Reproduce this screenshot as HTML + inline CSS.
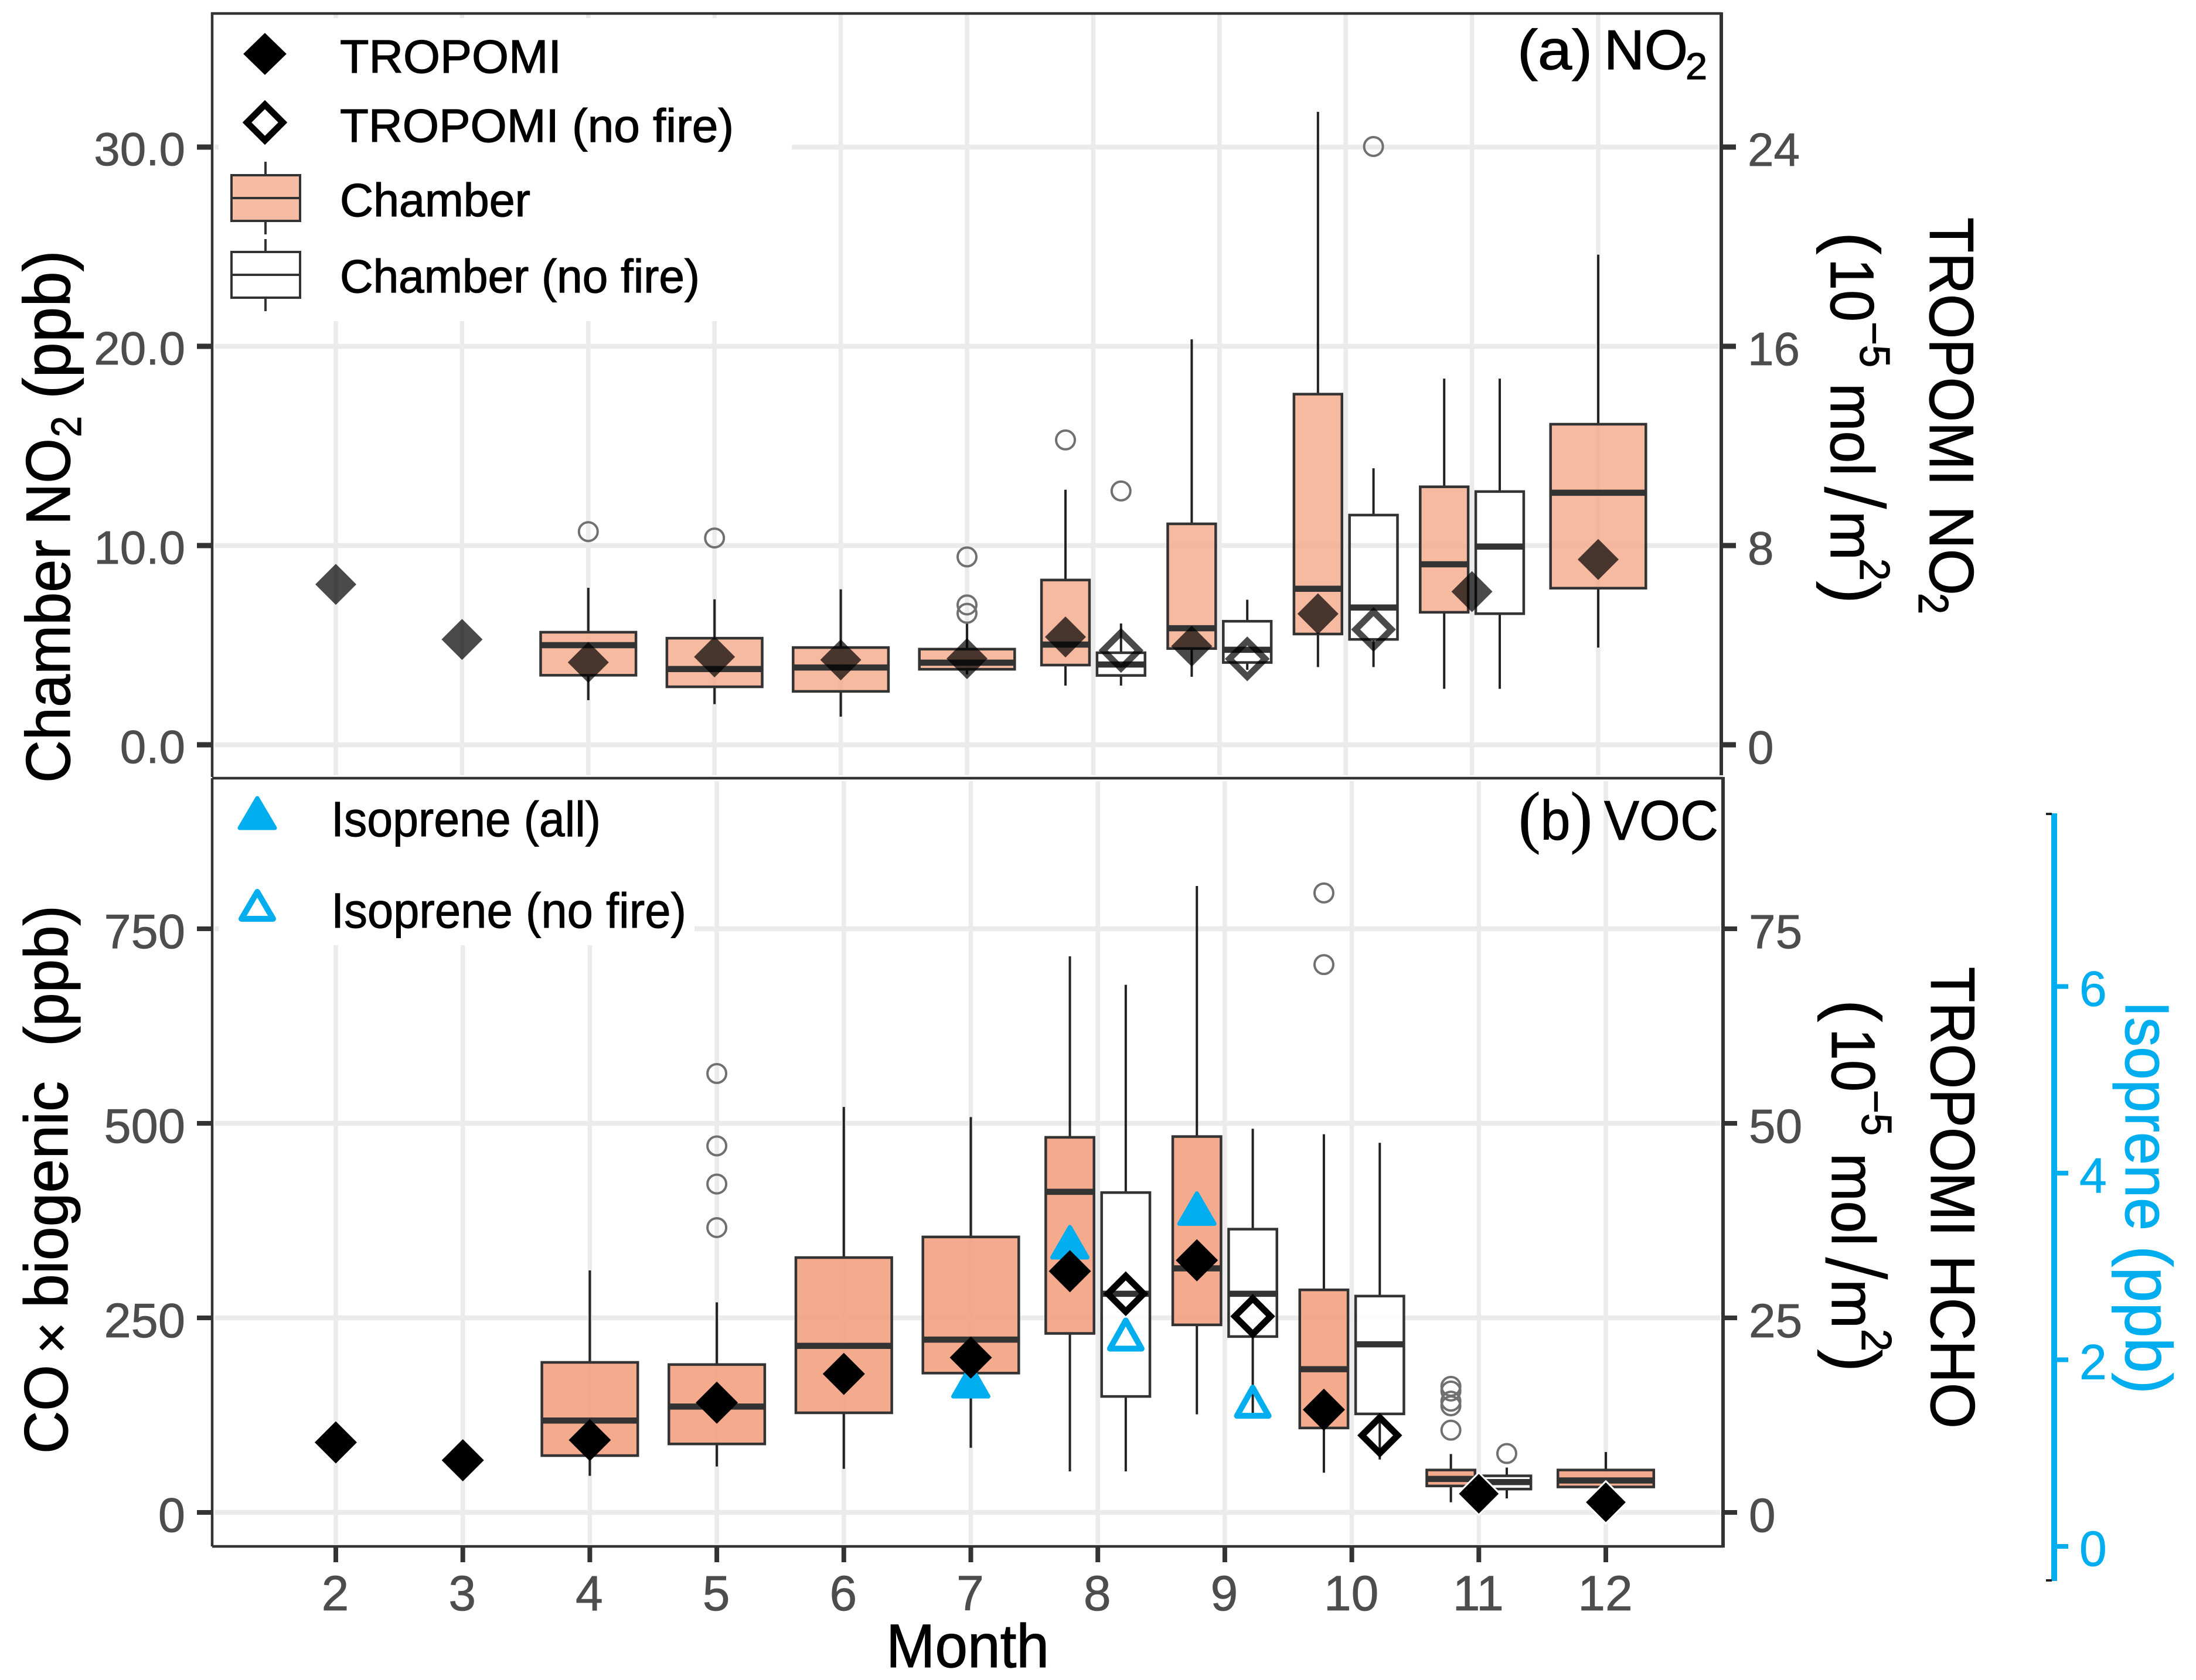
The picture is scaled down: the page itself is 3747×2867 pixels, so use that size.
<!DOCTYPE html>
<html lang="en">
<head>
<meta charset="utf-8">
<title>Chamber and TROPOMI NO2 and VOC by month</title>
<style>
  html, body { margin: 0; padding: 0; background: #fff; }
  svg { display: block; font-family: "Liberation Sans", sans-serif; }
</style>
</head>
<body>
<svg id="chart" width="3747" height="2867" viewBox="0 0 3747 2867">
  <rect x="0" y="0" width="3747" height="2867" fill="#fff"/>
  <g id="gridA"></g>
  <g id="gridB"></g>

  <rect x="373" y="31" width="978" height="517" fill="#fff"/>
  <rect x="373" y="1333" width="812" height="280" fill="#fff"/>

  <g id="marksA"></g>
  <g id="marksB"></g>
  <g id="axes"></g>

  <!-- Panel frames -->
  <path d="M362 1326V23H2937" fill="none" stroke="#333" stroke-width="4.5"/>
  <line x1="2937" x2="2937" y1="21" y2="1323" stroke="#333" stroke-width="6"/>
  <path d="M362 1328H2940M362 2639H2940M362 1328V2639" fill="none" stroke="#333" stroke-width="4.5"/>
  <line x1="2940" x2="2940" y1="1326" y2="2641" stroke="#333" stroke-width="6"/>

  <!-- Panel a legend -->
  <g font-size="80" fill="#000" stroke="#000" stroke-width="1.2">
    <path d="M452 57L488 92L452 127L416 92Z" fill="#000"/>
    <path d="M452 178.500L482.500 209L452 239.500L421.500 209Z" fill="#fff" stroke="#000" stroke-width="11"/>
    <line x1="453" x2="453" y1="276" y2="400" stroke="#333" stroke-width="4"/>
    <rect x="395" y="299" width="117" height="78" fill="#F5BBA3" stroke="#333" stroke-width="4"/>
    <line x1="395" x2="512" y1="338" y2="338" stroke="#333" stroke-width="4"/>
    <line x1="453" x2="453" y1="408" y2="531" stroke="#333" stroke-width="4"/>
    <rect x="395" y="430" width="117" height="78" fill="#fff" stroke="#333" stroke-width="4"/>
    <line x1="395" x2="512" y1="469" y2="469" stroke="#333" stroke-width="4"/>
    <text x="580" y="124" textLength="378" lengthAdjust="spacingAndGlyphs">TROPOMI</text>
    <text x="580" y="242" textLength="672" lengthAdjust="spacingAndGlyphs">TROPOMI (no fire)</text>
    <text x="580" y="369" textLength="325" lengthAdjust="spacingAndGlyphs">Chamber</text>
    <text x="580" y="499" textLength="614" lengthAdjust="spacingAndGlyphs">Chamber (no fire)</text>
  </g>

  <!-- Panel b legend -->
  <g font-size="84" fill="#000" stroke="#000" stroke-width="1">
    <path d="M439 1362L469 1413H409Z" fill="#00AEEF" stroke="#00AEEF" stroke-width="7" stroke-linejoin="round"/>
    <path d="M439 1522L466 1568H412Z" fill="#fff" stroke="#00AEEF" stroke-width="10" stroke-linejoin="round"/>
    <text x="565" y="1427" textLength="460" lengthAdjust="spacingAndGlyphs">Isoprene (all)</text>
    <text x="565" y="1583" textLength="606" lengthAdjust="spacingAndGlyphs">Isoprene (no fire)</text>
  </g>

  <!-- Panel tags -->
  <g fill="#000" stroke="#000" stroke-width="1.2">
    <text x="2589" y="118" font-size="96" textLength="128" lengthAdjust="spacingAndGlyphs">(a)</text>
    <text x="2737" y="118" font-size="96" textLength="143" lengthAdjust="spacingAndGlyphs">NO</text>
    <text x="2876" y="135" font-size="64" textLength="37" lengthAdjust="spacingAndGlyphs">2</text>
  </g>
  <g fill="#000" stroke="#000" stroke-width="1">
    <text x="2591" y="1433" font-size="96" textLength="126" lengthAdjust="spacingAndGlyphs"><tspan font-family="Liberation Serif" font-size="118">(</tspan>b<tspan font-family="Liberation Serif" font-size="118">)</tspan></text>
    <text x="2737" y="1433" font-size="96" textLength="195" lengthAdjust="spacingAndGlyphs">VOC</text>
  </g>

  <!-- Left y-axis titles -->
  <g fill="#000" font-size="107" stroke="#000" stroke-width="1.2">
    <text transform="translate(119,1336) rotate(-90)" textLength="415" lengthAdjust="spacingAndGlyphs">Chamber</text>
    <text transform="translate(119,896) rotate(-90)" textLength="148" lengthAdjust="spacingAndGlyphs">NO</text>
    <text transform="translate(138,746) rotate(-90)" font-size="72" textLength="36" lengthAdjust="spacingAndGlyphs">2</text>
    <text transform="translate(119,681) rotate(-90)" font-size="112" textLength="254" lengthAdjust="spacingAndGlyphs">(ppb)</text>
  </g>
  <g fill="#000" font-size="105" stroke="#000" stroke-width="1.2">
    <text transform="translate(115,2481) rotate(-90)" textLength="152" lengthAdjust="spacingAndGlyphs">CO</text>
    <text transform="translate(119,2310) rotate(-90)" font-size="92">×</text>
    <text transform="translate(115,2232) rotate(-90)" textLength="387" lengthAdjust="spacingAndGlyphs">biogenic</text>
    <text transform="translate(115,1786) rotate(-90)" textLength="241" lengthAdjust="spacingAndGlyphs">(ppb)</text>
  </g>

  <!-- Right y-axis title panel a -->
  <g fill="#000" font-size="107" stroke="#000" stroke-width="1.2">
    <text transform="translate(3293,371) rotate(90)" textLength="458" lengthAdjust="spacingAndGlyphs">TROPOMI</text>
    <text transform="translate(3293,863) rotate(90)" textLength="153" lengthAdjust="spacingAndGlyphs">NO</text>
    <text transform="translate(3274,1012) rotate(90)" font-size="72" textLength="36" lengthAdjust="spacingAndGlyphs">2</text>
    <text transform="translate(3124,396) rotate(90)" font-size="118" textLength="38" lengthAdjust="spacingAndGlyphs">(</text>
    <text transform="translate(3124,441) rotate(90)" font-size="105" textLength="108" lengthAdjust="spacingAndGlyphs">10</text>
    <text transform="translate(3174,549) rotate(90)" font-size="72" textLength="78" lengthAdjust="spacingAndGlyphs">−5</text>
    <text transform="translate(3124,654) rotate(90)" font-size="105" textLength="158" lengthAdjust="spacingAndGlyphs">mol</text>
    <text transform="translate(3113,829) rotate(90)" font-size="148" stroke="#fff" stroke-width="2">/</text>
    <text transform="translate(3124,872) rotate(90)" font-size="105" textLength="84" lengthAdjust="spacingAndGlyphs">m</text>
    <text transform="translate(3174,953) rotate(90)" font-size="72" textLength="38" lengthAdjust="spacingAndGlyphs">2</text>
    <text transform="translate(3124,992) rotate(90)" font-size="118" textLength="38" lengthAdjust="spacingAndGlyphs">)</text>
  </g>

  <!-- Right y-axis title panel b -->
  <g fill="#000" font-size="107" stroke="#000" stroke-width="1.2">
    <text transform="translate(3295,1650) rotate(90)" textLength="460" lengthAdjust="spacingAndGlyphs">TROPOMI</text>
    <text transform="translate(3295,2142) rotate(90)" textLength="296" lengthAdjust="spacingAndGlyphs">HCHO</text>
    <text transform="translate(3126,1706) rotate(90)" font-size="118" textLength="38" lengthAdjust="spacingAndGlyphs">(</text>
    <text transform="translate(3126,1755) rotate(90)" font-size="105" textLength="108" lengthAdjust="spacingAndGlyphs">10</text>
    <text transform="translate(3177,1860) rotate(90)" font-size="72" textLength="78" lengthAdjust="spacingAndGlyphs">−5</text>
    <text transform="translate(3126,1968) rotate(90)" font-size="105" textLength="158" lengthAdjust="spacingAndGlyphs">mol</text>
    <text transform="translate(3115,2144) rotate(90)" font-size="148" stroke="#fff" stroke-width="2">/</text>
    <text transform="translate(3126,2183) rotate(90)" font-size="105" textLength="84" lengthAdjust="spacingAndGlyphs">m</text>
    <text transform="translate(3177,2268) rotate(90)" font-size="72" textLength="38" lengthAdjust="spacingAndGlyphs">2</text>
    <text transform="translate(3126,2303) rotate(90)" font-size="118" textLength="38" lengthAdjust="spacingAndGlyphs">)</text>
  </g>

  <!-- Isoprene title -->
  <g fill="#00AEEF" font-size="106" stroke="#00AEEF" stroke-width="1.2">
    <text transform="translate(3627,1708) rotate(90)" textLength="392" lengthAdjust="spacingAndGlyphs">Isoprene</text>
    <text transform="translate(3627,2126) rotate(90)" font-size="112" textLength="253" lengthAdjust="spacingAndGlyphs">(ppb)</text>
  </g>

  <text x="1512" y="2845" font-size="105" fill="#000" stroke="#000" stroke-width="1.2" textLength="278" lengthAdjust="spacingAndGlyphs">Month</text>
</svg>

<script>
// ---------- Data ----------
const xTickValues = [2, 3, 4, 5, 6, 7, 8, 9, 10, 11, 12];
const xTickLabels = ["2", "3", "4", "5", "6", "7", "8", "9", "10", "11", "12"];

const no2LeftTicks = [0, 10, 20, 30];
const no2LeftLabels = ["0.0", "10.0", "20.0", "30.0"];
const no2RightTicks = [0, 8, 16, 24];
const no2RightLabels = ["0", "8", "16", "24"];
const vocLeftTicks = [0, 250, 500, 750];
const vocLeftLabels = ["0", "250", "500", "750"];
const vocRightTicks = [0, 25, 50, 75];
const vocRightLabels = ["0", "25", "50", "75"];
const isoTicks = [0, 2, 4, 6];
const isoLabels = ["0", "2", "4", "6"];

// Panel (a) chamber NO2, all data (ppb)
const no2AllMonths = [4, 5, 6, 7, 8, 9, 10, 11, 12];
const no2AllSide = [0, 0, 0, 0, -1, -1, -1, -1, 0];
const no2AllLow = [2.24, 2.04, 1.41, 3.53, 2.97, 3.41, 3.9, 2.81, 4.88];
const no2AllQ1 = [3.49, 2.91, 2.68, 3.79, 4.0, 4.83, 5.56, 6.65, 7.86];
const no2AllMedian = [5.0, 3.8, 3.88, 4.12, 5.03, 5.85, 7.83, 9.06, 12.65];
const no2AllQ3 = [5.65, 5.35, 4.88, 4.8, 8.27, 11.09, 17.6, 12.95, 16.09];
const no2AllHigh = [7.88, 7.3, 7.8, 6.16, 12.8, 20.35, 31.77, 18.38, 24.6];
const no2AllOutliers = [[10.7], [10.38], [], [9.43, 7.02, 6.6], [15.3], [], [], [], []];

// Panel (a) chamber NO2, no fire (ppb)
const no2CleanMonths = [8, 9, 10, 11];
const no2CleanLow = [2.97, 3.76, 3.9, 2.81];
const no2CleanQ1 = [3.48, 4.13, 5.29, 6.58];
const no2CleanMedian = [4.03, 4.77, 6.89, 9.95];
const no2CleanQ3 = [4.62, 6.2, 11.53, 12.71];
const no2CleanHigh = [6.09, 7.28, 13.88, 18.38];
const no2CleanOutliers = [[12.74], [], [30.03], []];

// Panel (a) TROPOMI NO2 (1e-5 mol/m2)
const tropNo2Months = [2, 3, 4, 5, 6, 7, 8, 9, 10, 11, 12];
const tropNo2Side = [0, 0, 0, 0, 0, 0, -1, -1, -1, 0, 0];
const tropNo2Values = [6.44, 4.23, 3.31, 3.53, 3.41, 3.46, 4.33, 3.96, 5.26, 6.15, 7.44];
const tropNo2CleanMonths = [8, 9, 10];
const tropNo2CleanValues = [3.79, 3.45, 4.63];

// Panel (b) CO x biogenic, all data (ppb)
const vocAllMonths = [4, 5, 6, 7, 8, 9, 10, 11, 12];
const vocAllSide = [0, 0, 0, 0, -1, -1, -1, -1, 0];
const vocAllLow = [47, 59, 56, 83, 52.7, 126, 51, 13, 33];
const vocAllQ1 = [73, 88, 128, 179, 230, 241, 108.5, 34, 32.7];
const vocAllMedian = [118, 136, 214, 222, 412, 313.6, 184, 43, 41];
const vocAllQ3 = [192.8, 190, 327.5, 354, 482, 483, 286, 54.5, 54.5];
const vocAllHigh = [311, 270, 521, 508, 714.6, 805, 486, 75, 77.6];
const vocAllOutliers = [[], [564, 471, 422, 366], [], [], [], [], [796, 704], [162, 156, 143, 137, 105.7], []];

// Panel (b) CO x biogenic, no fire (ppb)
const vocCleanMonths = [8, 9, 10, 11];
const vocCleanLow = [52.7, 128, 68, 18];
const vocCleanQ1 = [149, 226, 126.6, 30];
const vocCleanMedian = [281, 281, 216, 39];
const vocCleanQ3 = [411, 364, 278, 47];
const vocCleanHigh = [678, 493, 475, 57.6];
const vocCleanOutliers = [[], [], [], [75.7]];

// Panel (b) TROPOMI HCHO (1e-5 mol/m2)
const hchoMonths = [2, 3, 4, 5, 6, 7, 8, 9, 10, 11, 12];
const hchoSide = [0, 0, 0, 0, 0, 0, -1, -1, -1, 0, 0];
const hchoValues = [9.0, 6.7, 9.3, 14.1, 17.8, 19.9, 31.0, 32.4, 13.2, 2.4, 1.3];
const hchoCleanMonths = [8, 9, 10];
const hchoCleanValues = [28.1, 25.2, 9.9];

// Panel (b) isoprene (ppb)
const isoAllMonths = [7, 8, 9];
const isoAllSide = [0, -1, -1];
const isoAllValues = [1.77, 3.26, 3.62];
const isoCleanMonths = [8, 9];
const isoCleanValues = [2.27, 1.55];

// ---------- Axis functions ----------
const xA = m => 573 + (m - 2) * 215.4;
const xB = m => 573 + (m - 2) * 216.7;
const yA = v => 1271 - v * 34;
const yARight = v => 1271 - v * 42.5;
const yB = v => 2581 - v * 1.328;
const yBRight = v => 2581 - v * 13.28;
const yIso = v => 2639 - v * 159.25;

const DODGE = 0.22;
const WIDE_BOX = 0.755;
const NARROW_BOX = 0.38;
const BLUE = "#00AEEF";

const SVG_NS = "http://www.w3.org/2000/svg";
function mk(parent, tag, attrs, text) {
  const el = document.createElementNS(SVG_NS, tag);
  for (const k in attrs) el.setAttribute(k, attrs[k]);
  if (text !== undefined) el.textContent = text;
  parent.appendChild(el);
  return el;
}

const gridA = document.getElementById("gridA");
const gridB = document.getElementById("gridB");
const marksA = document.getElementById("marksA");
const marksB = document.getElementById("marksB");
const axes = document.getElementById("axes");

// ---------- Grid ----------
function drawGrid(parent, xScale, yScale, yTicks, top, bottom, right) {
  xTickValues.forEach(m => {
    const line = mk(parent, "line", { x1: xScale(m), x2: xScale(m), y1: top, y2: bottom, stroke: "#EBEBEB", "stroke-width": 7.5 });
    
    
  });
  yTicks.forEach(v => {
    const line = mk(parent, "line", { x1: 366, x2: right, y1: yScale(v), y2: yScale(v), stroke: "#EBEBEB", "stroke-width": 8.5 });
    
    
  });
}
drawGrid(gridA, xA, yA, no2LeftTicks, 25, 1323, 2933);
drawGrid(gridB, xB, yB, vocLeftTicks, 1333, 2635, 2935);

// ---------- Boxes ----------
function drawBox(parent, xScale, yScale, month, side, width, low, q1, med, q3, high, outliers, fill, fillOpacity, xUnit) {
  const cx = xScale(month + side * DODGE);
  const half = width * xUnit / 2;

  const group = mk(parent, "g", {});
  
  

  const wUp = mk(group, "line", { x1: cx, x2: cx, y1: yScale(high), y2: yScale(q3), stroke: "#222", "stroke-width": 4 });
  
  

  const wDown = mk(group, "line", { x1: cx, x2: cx, y1: yScale(q1), y2: yScale(low), stroke: "#222", "stroke-width": 4 });
  
  

  const body = mk(group, "rect", { x: cx - half, y: yScale(q3), width: 2 * half, height: yScale(q1) - yScale(q3), fill: fill, "fill-opacity": fillOpacity, stroke: "#333", "stroke-width": 4.5 });
  
  

  const medianLine = mk(group, "line", { x1: cx - half, x2: cx + half, y1: yScale(med), y2: yScale(med), stroke: "#333", "stroke-width": 10.5 });
  
  

  outliers.forEach(v => {
    const dot = mk(group, "circle", { cx: cx, cy: yScale(v), r: 16, fill: "none", stroke: "#707070", "stroke-width": 4 });
    
    
  });
}

no2AllMonths.forEach((m, i) => {
  drawBox(marksA, xA, yA, m, no2AllSide[i], no2AllSide[i] ? NARROW_BOX : WIDE_BOX, no2AllLow[i], no2AllQ1[i], no2AllMedian[i], no2AllQ3[i], no2AllHigh[i], no2AllOutliers[i], "#F4A988", 0.8, 215.4);
});
no2CleanMonths.forEach((m, i) => {
  drawBox(marksA, xA, yA, m, 1, NARROW_BOX, no2CleanLow[i], no2CleanQ1[i], no2CleanMedian[i], no2CleanQ3[i], no2CleanHigh[i], no2CleanOutliers[i], "#FFFFFF", 0, 215.4);
});
vocAllMonths.forEach((m, i) => {
  drawBox(marksB, xB, yB, m, vocAllSide[i], vocAllSide[i] ? NARROW_BOX : WIDE_BOX, vocAllLow[i], vocAllQ1[i], vocAllMedian[i], vocAllQ3[i], vocAllHigh[i], vocAllOutliers[i], "#F29F7D", 0.88, 216.7);
});
vocCleanMonths.forEach((m, i) => {
  drawBox(marksB, xB, yB, m, 1, NARROW_BOX, vocCleanLow[i], vocCleanQ1[i], vocCleanMedian[i], vocCleanQ3[i], vocCleanHigh[i], vocCleanOutliers[i], "#FFFFFF", 0.85, 216.7);
});

// ---------- Symbols ----------
function diamondPath(x, y, h) {
  return "M" + x + " " + (y - h) + "L" + (x + h) + " " + y + "L" + x + " " + (y + h) + "L" + (x - h) + " " + y + "Z";
}
function trianglePath(x, y, hw, hh) {
  return "M" + x + " " + (y - hh) + "L" + (x + hw) + " " + (y + hh) + "L" + (x - hw) + " " + (y + hh) + "Z";
}

// Isoprene triangles sit under the diamonds in panel b
isoAllMonths.forEach((m, i) => {
  const tri = mk(marksB, "path", { d: trianglePath(xB(m + isoAllSide[i] * DODGE), yIso(isoAllValues[i]), 30, 26), fill: BLUE, stroke: BLUE, "stroke-width": 7, "stroke-linejoin": "round" });
  
  
});
isoCleanMonths.forEach((m, i) => {
  const tri = mk(marksB, "path", { d: trianglePath(xB(m + DODGE), yIso(isoCleanValues[i]), 27, 24), fill: "none", stroke: BLUE, "stroke-width": 10, "stroke-linejoin": "round" });
  
  
});

tropNo2Months.forEach((m, i) => {
  const d = mk(marksA, "path", { d: diamondPath(xA(m + tropNo2Side[i] * DODGE), yARight(tropNo2Values[i]), 35), fill: "#000", "fill-opacity": 0.71 });
  
  
});
tropNo2CleanMonths.forEach((m, i) => {
  const d = mk(marksA, "path", { d: diamondPath(xA(m + DODGE), yARight(tropNo2CleanValues[i]), 30.5), fill: "none", stroke: "#000", "stroke-opacity": 0.71, "stroke-width": 11 });
  
  
});

hchoMonths.forEach((m, i) => {
  const halo = m >= 11;
  const d = mk(marksB, "path", { d: diamondPath(xB(m + hchoSide[i] * DODGE), yBRight(hchoValues[i]), 36), fill: "#000", stroke: halo ? "#fff" : "none", "stroke-width": halo ? 3 : 0 });
  
  
});
hchoCleanMonths.forEach((m, i) => {
  const d = mk(marksB, "path", { d: diamondPath(xB(m + DODGE), yBRight(hchoCleanValues[i]), 30.5), fill: "none", stroke: "#000", "stroke-width": 11 });
  
  
});

// ---------- Axis ticks and labels ----------
function drawYTicks(values, labels, scale, x1, x2, labelX, anchor, dy, fontSize, color, thick) {
  values.forEach((v, i) => {
    const tick = mk(axes, "line", { x1: x1, x2: x2, y1: scale(v), y2: scale(v), stroke: color, "stroke-width": thick });
    
    
    const labelColor = color === BLUE ? BLUE : "#4D4D4D";
    const label = mk(axes, "text", { x: labelX, y: scale(v) + dy, "text-anchor": anchor, "font-size": fontSize, fill: labelColor, stroke: labelColor, "stroke-width": 0.8 }, labels[i]);
    
    
  });
}
drawYTicks(no2LeftTicks, no2LeftLabels, yA, 336, 362, 316, "end", 31, 80, "#333", 9);
drawYTicks(no2RightTicks, no2RightLabels, yARight, 2937, 2962, 2982, "start", 32, 80, "#333", 9);
drawYTicks(vocLeftTicks, vocLeftLabels, yB, 336, 362, 316, "end", 33, 83, "#333", 8);
drawYTicks(vocRightTicks, vocRightLabels, yBRight, 2940, 2964, 2984, "start", 33, 82, "#333", 8);
drawYTicks(isoTicks, isoLabels, yIso, 3505, 3529, 3548, "start", 33, 84, BLUE, 8);

xTickValues.forEach((m, i) => {
  const tick = mk(axes, "line", { x1: xB(m), x2: xB(m), y1: 2639, y2: 2666, stroke: "#333", "stroke-width": 8 });
  
  
  const label = mk(axes, "text", { x: xB(m) - 1, y: 2748, "text-anchor": "middle", "font-size": 84, fill: "#4D4D4D", stroke: "#4D4D4D", "stroke-width": 0.8 }, xTickLabels[i]);
  
  
});

// Isoprene axis spine with its black end caps
const isoSpine = mk(axes, "line", { x1: 3505, x2: 3505, y1: 1388, y2: 2698, stroke: BLUE, "stroke-width": 10 });


const isoCapTop = mk(axes, "line", { x1: 3491, x2: 3501, y1: 1389, y2: 1389, stroke: "#222", "stroke-width": 4 });


const isoCapBottom = mk(axes, "line", { x1: 3491, x2: 3501, y1: 2697, y2: 2697, stroke: "#222", "stroke-width": 4 });


</script>
</body>
</html>
